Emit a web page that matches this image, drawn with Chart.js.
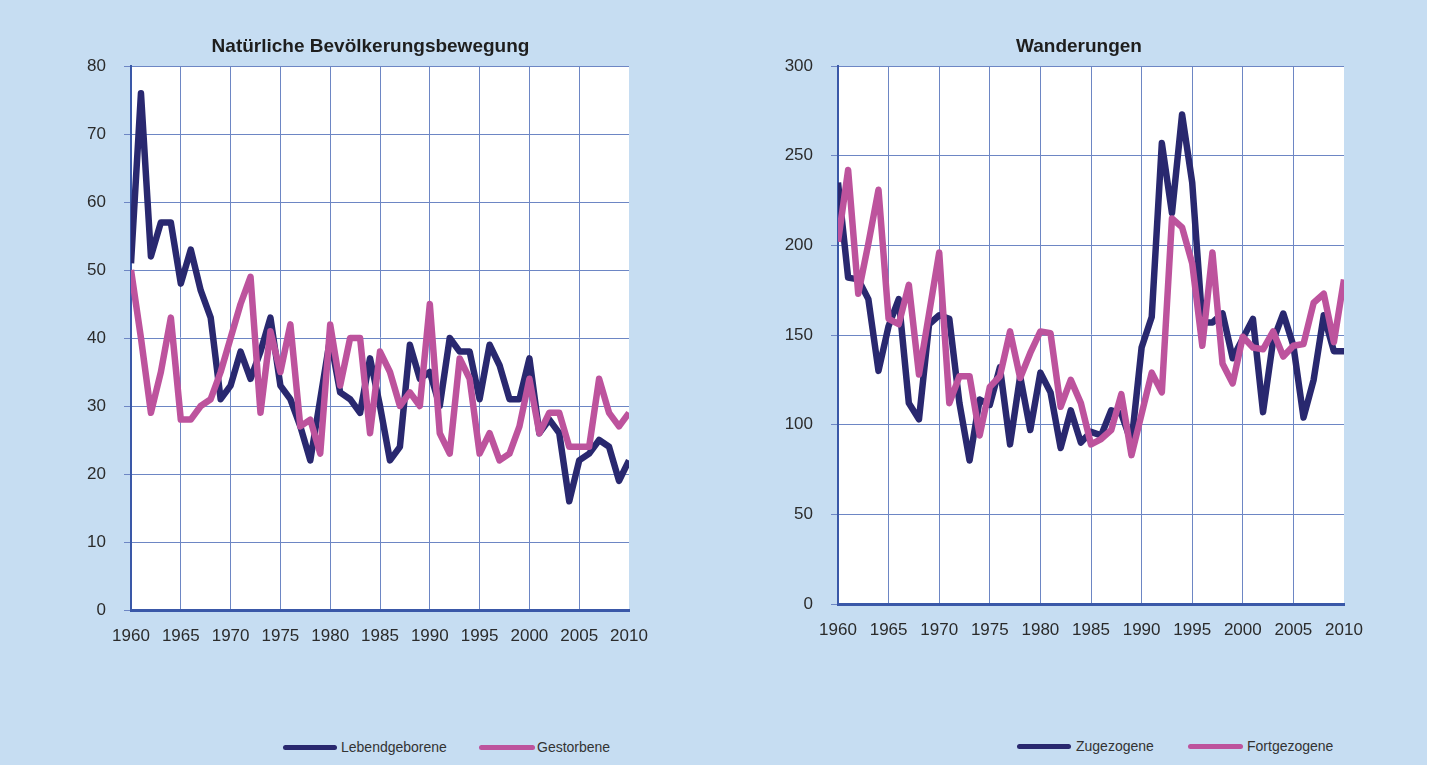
<!DOCTYPE html>
<html>
<head>
<meta charset="utf-8">
<script src="https://cdn.jsdelivr.net/npm/chart.js@4.4.1/dist/chart.umd.min.js"></script>
<style>
  html, body { margin: 0; padding: 0; background: #ffffff; }
  #bg { position: absolute; left: 0; top: 0; width: 1427px; height: 765px; background: #c6ddf2; }
  canvas { position: absolute; }
  .leg { position: absolute; font-family: "Liberation Sans", Arial, sans-serif; font-size: 14px; color: #333333; line-height: 18px; white-space: nowrap; }
  .sw { position: absolute; height: 5px; border-radius: 3px; }
</style>
</head>
<body>
<div id="bg"></div>
<canvas id="c1" width="741" height="680" style="left:0px;top:0px;"></canvas>
<canvas id="c2" width="686" height="680" style="left:736px;top:0px;"></canvas>

<div class="sw" style="left:283px;top:745px;width:54px;background:#29286f;"></div>
<div class="leg" style="left:341px;top:738px;">Lebendgeborene</div>
<div class="sw" style="left:479px;top:745px;width:56px;background:#bd539d;"></div>
<div class="leg" style="left:537px;top:738px;">Gestorbene</div>

<div class="sw" style="left:1017px;top:744px;width:54px;background:#29286f;"></div>
<div class="leg" style="left:1076px;top:737px;">Zugezogene</div>
<div class="sw" style="left:1188px;top:744px;width:55px;background:#bd539d;"></div>
<div class="leg" style="left:1247px;top:737px;">Fortgezogene</div>

<script>
const years = [1960,1961,1962,1963,1964,1965,1966,1967,1968,1969,
               1970,1971,1972,1973,1974,1975,1976,1977,1978,1979,
               1980,1981,1982,1983,1984,1985,1986,1987,1988,1989,
               1990,1991,1992,1993,1994,1995,1996,1997,1998,1999,
               2000,2001,2002,2003,2004,2005,2006,2007,2008,2009,2010];

const lebendgeborene = [51,76,52,57,57,48,53,47,43,31,
                        33,38,34,38,43,33,31,27,22,31,
                        40,32,31,29,37,30,22,24,39,34,
                        35,30,40,38,38,31,39,36,31,31,
                        37,26,28,26,16,22,23,25,24,19,22];

const gestorbene = [50,40,29,35,43,28,28,30,31,35,
                    40,45,49,29,41,35,42,27,28,23,
                    42,33,40,40,26,38,35,30,32,30,
                    45,26,23,37,34,23,26,22,23,27,
                    34,26,29,29,24,24,24,34,29,27,29];

const zugezogene = [235,182,181,170,130,155,170,112,103,156,
                    161,159,112,80,114,111,132,89,127,97,
                    129,118,87,108,90,96,94,108,106,90,
                    143,160,257,218,273,235,157,157,162,137,
                    148,159,107,147,162,144,104,125,161,141,141];

const fortgezogene = [202,242,173,201,231,159,156,178,128,162,
                      196,112,127,127,94,121,127,152,126,140,
                      152,151,110,125,112,89,92,97,117,83,
                      106,129,118,215,210,190,144,196,134,123,
                      149,143,142,152,138,144,145,168,173,146,181];

const xTicks = [1960,1965,1970,1975,1980,1985,1990,1995,2000,2005,2010];
const leftYTicks = [0,10,20,30,40,50,60,70,80];
const rightYTicks = [0,50,100,150,200,250,300];

const titleLeft = "Natürliche Bevölkerungsbewegung";
const titleRight = "Wanderungen";
const namesLeft = ["Lebendgeborene", "Gestorbene"];
const namesRight = ["Zugezogene", "Fortgezogene"];

const NAVY = "#29286f";
const PINK = "#bd539d";
const GRID = "#6d86c4";
const AXIS = "#3a58a8";
const FONT = '"Liberation Sans", Arial, sans-serif';

const whiteArea = {
  id: "whiteArea",
  beforeDraw(chart) {
    const a = chart.chartArea, ctx = chart.ctx;
    ctx.save();
    ctx.fillStyle = "#ffffff";
    ctx.fillRect(a.left, a.top, a.right - a.left, a.bottom - a.top);
    ctx.restore();
  }
};

function pts(vals) { return years.map((y, i) => ({ x: y, y: vals[i] })); }

function makeChart(id, title, names, s1, s2, yTicks, yAxisW, xAxisH, rightW) {
  const ymax = yTicks[yTicks.length - 1];
  return new Chart(document.getElementById(id), {
    type: "line",
    data: {
      datasets: [
        { label: names[0], data: pts(s1), borderColor: NAVY, backgroundColor: NAVY,
          borderWidth: 6.5, pointRadius: 0, tension: 0, borderJoinStyle: "round", order: 1 },
        { label: names[1], data: pts(s2), borderColor: PINK, backgroundColor: PINK,
          borderWidth: 6.5, pointRadius: 0, tension: 0, borderJoinStyle: "round", order: 0 }
      ]
    },
    options: {
      responsive: false,
      animation: false,
      devicePixelRatio: 1,
      layout: { padding: 0 },
      plugins: {
        legend: { display: false },
        tooltip: { enabled: false },
        title: {
          display: true, text: title, color: "#1e1e1e",
          font: { family: FONT, size: 19, weight: "bold", lineHeight: 1.2 },
          padding: { top: 35.6, bottom: 7.6 }
        }
      },
      scales: {
        x: {
          type: "linear", min: 1960, max: 2010,
          afterBuildTicks(scale) { scale.ticks = xTicks.map(v => ({ value: v })); },
          afterFit(scale) { scale.height = xAxisH; },
          ticks: { autoSkip: false, maxRotation: 0, padding: 16, color: "#2b2b2b",
                   font: { family: FONT, size: 17 }, callback: v => String(v) },
          grid: { color: ctx => (ctx.tick && ctx.tick.value === 2010) ? "rgba(0,0,0,0)" : GRID,
                  lineWidth: 1, drawTicks: false },
          border: { color: AXIS, width: 3 }
        },
        y: {
          min: 0, max: ymax,
          afterBuildTicks(scale) { scale.ticks = yTicks.map(v => ({ value: v })); },
          afterFit(scale) { scale.width = yAxisW; },
          ticks: { padding: 18, color: "#2b2b2b", font: { family: FONT, size: 17 },
                   callback: v => String(v) },
          grid: { color: GRID, lineWidth: 1, drawTicks: true, tickLength: 7 },
          border: { color: AXIS, width: 2 }
        },
        spacer: {
          position: "right", min: 0, max: 1,
          afterFit(scale) { scale.width = rightW; },
          ticks: { display: false },
          grid: { display: false, drawTicks: false },
          border: { display: false }
        }
      }
    },
    plugins: [whiteArea]
  });
}

makeChart("c1", titleLeft, namesLeft, lebendgeborene, gestorbene, leftYTicks, 131, 70, 112);
makeChart("c2", titleRight, namesRight, zugezogene, fortgezogene, rightYTicks, 102, 76, 78);
</script>
</body>
</html>
